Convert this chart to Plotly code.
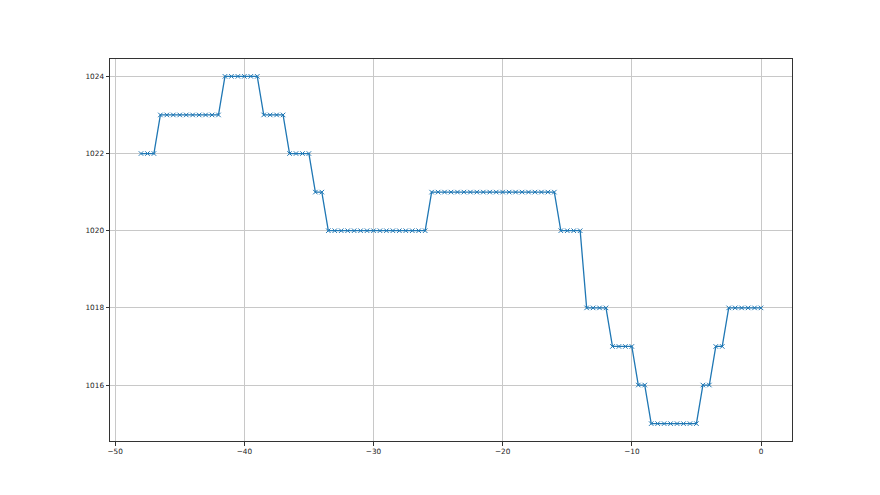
import plotly.graph_objects as go

# Data: x from -48 to 0 step 0.5; pressure step levels (level, count)
levels = [1022, 1023, 1024, 1023, 1022, 1021, 1020, 1021, 1020, 1018, 1017, 1016, 1015, 1016, 1017, 1018]
counts = [3, 10, 6, 4, 4, 2, 16, 20, 4, 4, 4, 2, 8, 2, 2, 6]

y_values = []
for lv, c in zip(levels, counts):
    y_values.extend([lv] * c)
x_values = [-48 + 0.5 * i for i in range(len(y_values))]

x_tickvals = [-50, -40, -30, -20, -10, 0]
y_tickvals = [1016, 1018, 1020, 1022, 1024]

fig = go.Figure()
fig.add_trace(go.Scatter(
    x=x_values, y=y_values, mode="lines+markers",
    line=dict(color="#1f77b4", width=1.3),
    marker=dict(symbol="x-thin", size=4.5, line=dict(color="#1f77b4", width=1)),
    showlegend=False,
))

axis_common = dict(
    showgrid=True, gridcolor="#c8c8c8", gridwidth=1,
    showline=True, linecolor="#333333", linewidth=1, mirror=True,
    ticks="outside", ticklen=3.5, tickwidth=1, tickcolor="#333333",
    zeroline=False,
    tickfont=dict(family="DejaVu Sans", size=7.3, color="#222222"),
)

fig.update_xaxes(range=[-50.4, 2.4], tickvals=x_tickvals, **axis_common)
fig.update_yaxes(range=[1014.55, 1024.45], tickvals=y_tickvals, **axis_common)

fig.update_layout(
    width=880, height=495,
    margin=dict(l=102, r=96, t=51, b=62),
    paper_bgcolor="white", plot_bgcolor="white",
)

fig.write_html("out.html")
